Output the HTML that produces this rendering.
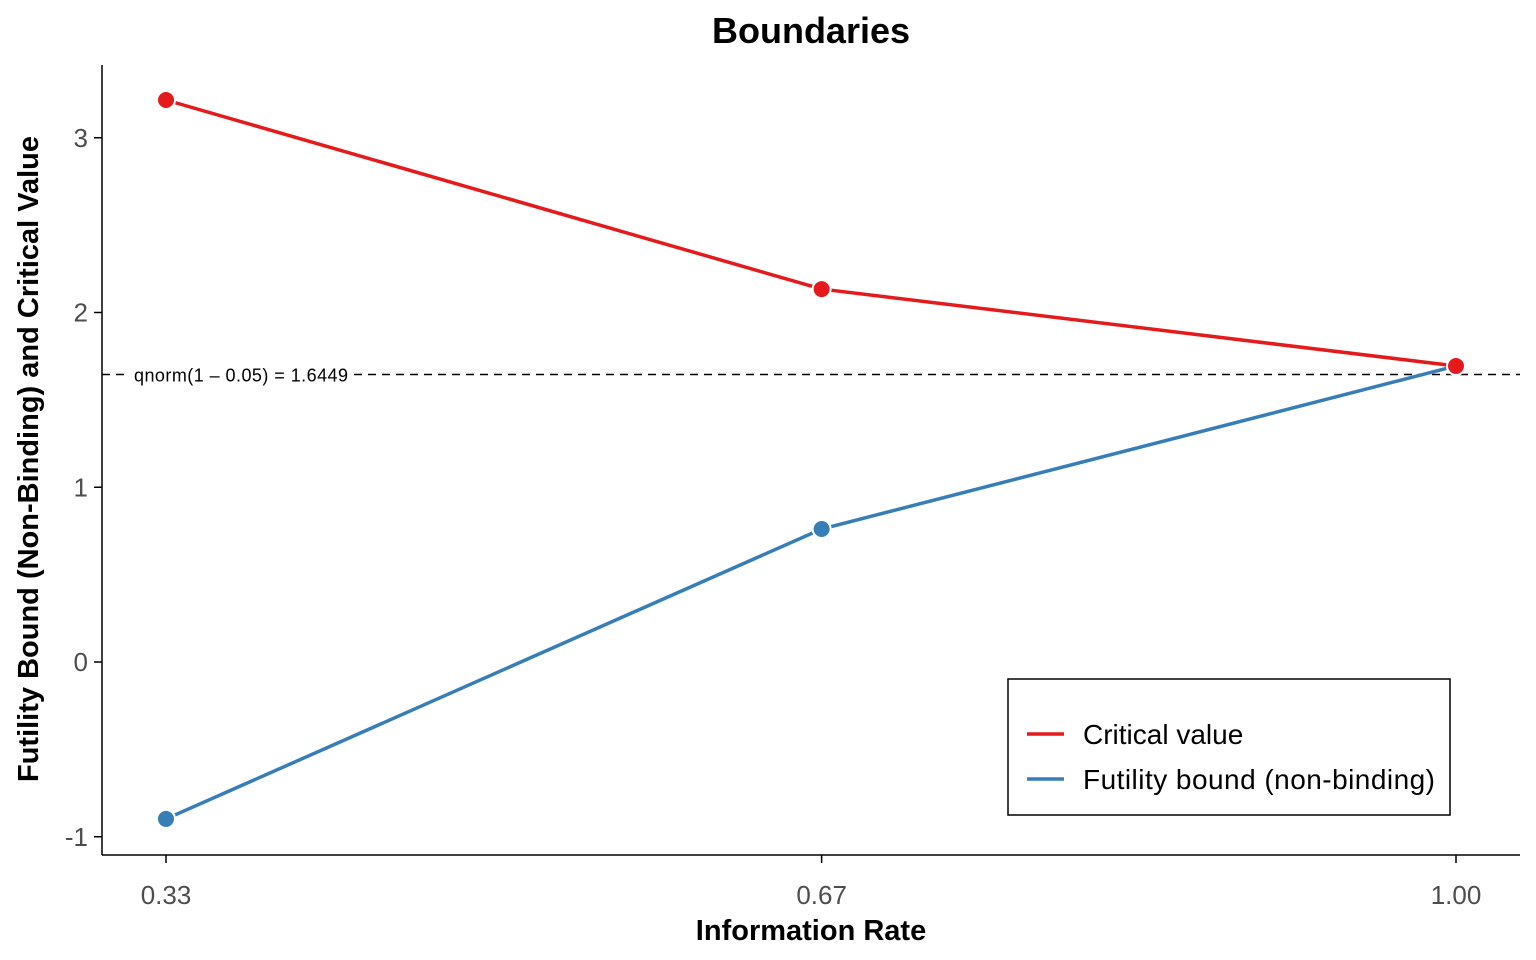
<!DOCTYPE html>
<html><head><meta charset="utf-8">
<style>
html,body{margin:0;padding:0;background:#fff;}
svg{display:block;font-family:"Liberation Sans",Arial,sans-serif;}
</style></head>
<body>
<svg id="chart" width="1536" height="960" viewBox="0 0 1536 960" xmlns="http://www.w3.org/2000/svg">
<rect width="1536" height="960" fill="#fff"/>
<text x="811" y="43" text-anchor="middle" font-size="36" font-weight="bold">Boundaries</text>
<text x="811" y="940" text-anchor="middle" font-size="29" font-weight="bold">Information Rate</text>
<text transform="translate(38,459) rotate(-90)" text-anchor="middle" font-size="29" font-weight="bold">Futility Bound (Non-Binding) and Critical Value</text>
<g id="axes"></g>
<g id="marks"></g>
<g>
<rect x="1008" y="679" width="442" height="136" fill="#fff" stroke="#000" stroke-width="1.5"/>
<line x1="1027" y1="734" x2="1064" y2="734" stroke="#E41A1C" stroke-width="3.5"/>
<text x="1083" y="744" font-size="28">Critical value</text>
<line x1="1027" y1="779" x2="1064" y2="779" stroke="#377EB8" stroke-width="3.5"/>
<text x="1083" y="789" font-size="28" textLength="352">Futility bound (non-binding)</text>
</g>
</svg>
<script>
const xValues = [0.333, 0.672, 1.0];
const xTickLabels = ["0.33", "0.67", "1.00"];
const criticalValues = [3.216, 2.134, 1.694];
const futilityValues = [-0.898, 0.761, 1.694];
const yTicks = [-1, 0, 1, 2, 3];
const refValue = 1.6449;

const ns = "http://www.w3.org/2000/svg";
const X = v => 166 + (v - 0.333) * (1456 - 166) / (1.0 - 0.333);
const Y = v => 662 - v * 174.75;
function mk(tag, attrs, parent, text){
  const e = document.createElementNS(ns, tag);
  for (const k in attrs) e.setAttribute(k, attrs[k]);
  if (text !== undefined) e.textContent = text;
  parent.appendChild(e); return e;
}
const axes = document.getElementById('axes');
const marks = document.getElementById('marks');
let a = mk('line', {x1:102,y1:65,x2:102,y2:855,stroke:'#000','stroke-width':1.5}, axes);


a = mk('line', {x1:102,y1:855,x2:1520,y2:855,stroke:'#000','stroke-width':1.5}, axes);


yTicks.forEach(v => {
  const t = mk('line', {x1:94,y1:Y(v),x2:102,y2:Y(v),stroke:'#000','stroke-width':1.5}, axes);
  
  
  const l = mk('text', {x:88,y:Y(v)+9,'text-anchor':'end','font-size':26,fill:'#4d4d4d'}, axes, String(v));
  
  
});
xValues.forEach((v, i) => {
  const t = mk('line', {x1:X(v),y1:855,x2:X(v),y2:863,stroke:'#000','stroke-width':1.5}, axes);
  
  
  const l = mk('text', {x:X(v),y:904,'text-anchor':'middle','font-size':26,fill:'#4d4d4d'}, axes, xTickLabels[i]);
  
  
});
const ref = mk('line', {x1:102,y1:Y(refValue),x2:1520,y2:Y(refValue),stroke:'#000','stroke-width':1.5,'stroke-dasharray':'8,6'}, marks);


const bg = mk('rect', {x:128,y:Y(refValue)-11,width:226,height:22,fill:'#fff'}, marks);


const rl = mk('text', {x:134,y:Y(refValue)+7,'font-size':18,textLength:214}, marks, 'qnorm(1 \u2013 0.05) = 1.6449');


function series(vals, color, name){
  const pts = vals.map((v, i) => X(xValues[i]) + ',' + Y(v)).join(' ');
  const pl = mk('polyline', {points:pts,fill:'none',stroke:color,'stroke-width':3.5}, marks);
  
  
  vals.forEach((v, i) => {
    const c = mk('circle', {cx:X(xValues[i]),cy:Y(v),r:9,fill:color,stroke:'#fff','stroke-width':2}, marks);
    
    
  });
}
series(futilityValues, '#377EB8', 'futility-bound');
series(criticalValues, '#E41A1C', 'critical-value');
</script>
</body></html>
